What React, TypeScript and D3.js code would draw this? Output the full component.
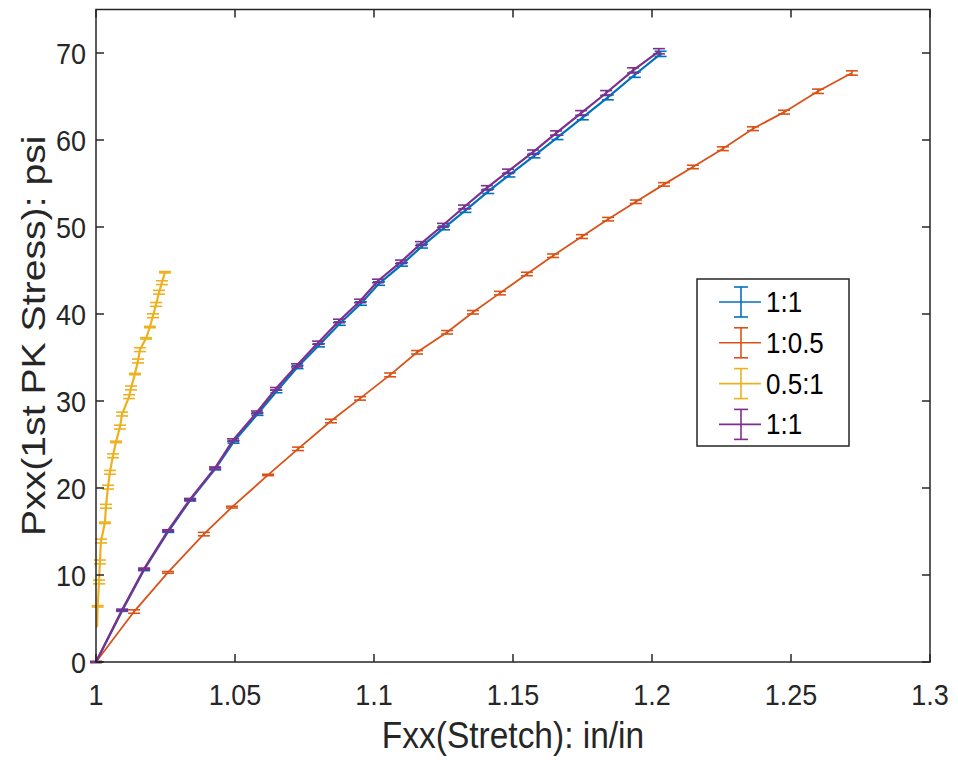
import React, { useRef, useEffect } from 'react';
import * as d3 from 'd3';

const x_ticks = [1, 1.05, 1.1, 1.15, 1.2, 1.25, 1.3];
const y_ticks = [0, 10, 20, 30, 40, 50, 60, 70];

const legend_labels = ['1:1', '1:0.5', '0.5:1', '1:1'];
const series_colors = ['#0072BD', '#D95319', '#EDB120', '#7E2F8E'];

// 1:1 (blue)
const blue_x = [1, 1.0094, 1.0173, 1.026, 1.0339, 1.0429, 1.0495, 1.0581, 1.0649, 1.0725, 1.0802, 1.0877, 1.0953, 1.1018, 1.1101, 1.1173, 1.1252, 1.1329, 1.1411, 1.1487, 1.1577, 1.166, 1.1751, 1.1841, 1.1938, 1.2031];
const blue_y = [0, 5.9, 10.6, 15.0, 18.6, 22.2, 25.3, 28.5, 31.1, 33.9, 36.4, 38.9, 41.2, 43.5, 45.7, 47.8, 49.9, 51.9, 54.1, 56.0, 58.2, 60.3, 62.6, 64.9, 67.5, 69.9];
const blue_err = [0.05, 0.08, 0.1, 0.1, 0.1, 0.12, 0.15, 0.15, 0.15, 0.18, 0.18, 0.2, 0.2, 0.2, 0.2, 0.22, 0.22, 0.22, 0.25, 0.25, 0.25, 0.25, 0.28, 0.28, 0.3, 0.3];

// 1:0.5 (red)
const red_x = [1, 1.0137, 1.0259, 1.0388, 1.0489, 1.0619, 1.0727, 1.0845, 1.095, 1.1058, 1.1155, 1.1263, 1.1356, 1.1453, 1.155, 1.1644, 1.1748, 1.1842, 1.1942, 1.2043, 1.2147, 1.2255, 1.2363, 1.2475, 1.2597, 1.2719];
const red_y = [0, 5.8, 10.3, 14.7, 17.8, 21.5, 24.5, 27.7, 30.3, 33.0, 35.6, 37.9, 40.2, 42.4, 44.6, 46.7, 48.9, 50.9, 52.9, 54.9, 56.9, 59.0, 61.3, 63.2, 65.6, 67.7];
const red_err = [0.05, 0.2, 0.1, 0.2, 0.1, 0.08, 0.2, 0.2, 0.2, 0.22, 0.2, 0.2, 0.2, 0.2, 0.2, 0.2, 0.22, 0.2, 0.2, 0.2, 0.2, 0.22, 0.22, 0.22, 0.25, 0.25];

// 0.5:1 (yellow)
const yellow_x = [1.0004, 1.0006, 1.0011, 1.0014, 1.0018, 1.0032, 1.0036, 1.0043, 1.005, 1.0061, 1.0072, 1.0086, 1.0094, 1.0119, 1.0126, 1.014, 1.0151, 1.0158, 1.018, 1.0194, 1.0205, 1.0216, 1.0227, 1.0237, 1.0248];
const yellow_y = [4.0, 6.4, 9.2, 11.5, 13.9, 16.0, 17.9, 20.1, 21.8, 23.7, 25.3, 27.0, 28.5, 30.5, 31.5, 33.1, 34.6, 35.9, 37.2, 38.5, 39.8, 41.1, 42.5, 43.6, 44.8];
const yellow_err = [null, 0.08, 0.22, 0.22, 0.22, 0.08, 0.22, 0.22, 0.22, 0.22, 0.08, 0.22, 0.22, 0.22, 0.22, 0.08, 0.22, 0.22, 0.08, 0.08, 0.22, 0.22, 0.22, 0.22, 0.08];

// 1:1 (purple)
const purple_x = [1, 1.0094, 1.0173, 1.0259, 1.0338, 1.0428, 1.0493, 1.0579, 1.0647, 1.0723, 1.0799, 1.0874, 1.095, 1.1014, 1.1097, 1.1169, 1.1248, 1.1324, 1.1406, 1.1482, 1.1572, 1.1655, 1.1745, 1.1835, 1.1932, 1.2025];
const purple_y = [0, 6.0, 10.7, 15.1, 18.7, 22.3, 25.5, 28.7, 31.4, 34.1, 36.7, 39.2, 41.5, 43.8, 46.0, 48.1, 50.2, 52.3, 54.5, 56.4, 58.6, 60.8, 63.1, 65.4, 68.0, 70.2];
const purple_err = [0.05, 0.08, 0.1, 0.1, 0.1, 0.12, 0.15, 0.15, 0.15, 0.18, 0.18, 0.2, 0.2, 0.2, 0.2, 0.22, 0.22, 0.22, 0.25, 0.25, 0.25, 0.25, 0.28, 0.28, 0.3, 0.3];

const FONT = '"Liberation Sans", Arial, Helvetica, sans-serif';
const STRETCH = 1.12;

export default function App() {
    const svg_ref = useRef(null);

    useEffect(() => {
        const width = 958;
        const height = 760;
        const margin = { left: 96, right: 28, top: 9.5, bottom: 98 };

        const svg = d3.select(svg_ref.current);
        svg.selectAll('*').remove();

        const x = d3.scaleLinear([1, 1.3], [margin.left, width - margin.right]);
        const y = d3.scaleLinear([0, 75], [height - margin.bottom, margin.top]);
        const axis_color = '#262626';

        const series = [
            { xs: blue_x, ys: blue_y, err: blue_err, color: series_colors[0], lw: 2.2 },
            { xs: red_x, ys: red_y, err: red_err, color: series_colors[1], lw: 1.8 },
            { xs: yellow_x, ys: yellow_y, err: yellow_err, color: series_colors[2], lw: 2.2 },
            { xs: purple_x, ys: purple_y, err: purple_err, color: series_colors[3], lw: 2.2 },
        ];

        const line = d3
            .line()
            .x((d) => x(d.x))
            .y((d) => y(d.y));

        const cap = 6;
        series.forEach((s) => {
            const pts = s.xs.map((v, i) => ({ x: v, y: s.ys[i], e: s.err[i] }));
            const g = svg.append('g');
            g.append('path')
                .datum(pts)
                .attr('fill', 'none')
                .attr('stroke', s.color)
                .attr('stroke-width', s.lw)
                .attr('d', line);

            const bars = g
                .selectAll('g.eb')
                .data(pts.filter((d) => d.e != null))
                .join('g')
                .attr('stroke', s.color)
                .attr('stroke-width', 1.6);
            bars.append('line')
                .attr('x1', (d) => x(d.x))
                .attr('x2', (d) => x(d.x))
                .attr('y1', (d) => y(d.y - d.e))
                .attr('y2', (d) => y(d.y + d.e));
            bars.append('line')
                .attr('x1', (d) => x(d.x) - cap)
                .attr('x2', (d) => x(d.x) + cap)
                .attr('y1', (d) => y(d.y - d.e))
                .attr('y2', (d) => y(d.y - d.e));
            bars.append('line')
                .attr('x1', (d) => x(d.x) - cap)
                .attr('x2', (d) => x(d.x) + cap)
                .attr('y1', (d) => y(d.y + d.e))
                .attr('y2', (d) => y(d.y + d.e));
        });

        // axes box with inward ticks on every side
        const tick = 8;
        const x0 = x.range()[0];
        const x1 = x.range()[1];
        const y0 = y.range()[0];
        const y1 = y.range()[1];
        const axes = svg.append('g').attr('stroke', axis_color).attr('stroke-width', 1.5);
        axes.append('rect')
            .attr('x', x0)
            .attr('y', y1)
            .attr('width', x1 - x0)
            .attr('height', y0 - y1)
            .attr('fill', 'none');
        x_ticks.forEach((t) => {
            axes.append('line').attr('x1', x(t)).attr('x2', x(t)).attr('y1', y0).attr('y2', y0 - tick);
            axes.append('line').attr('x1', x(t)).attr('x2', x(t)).attr('y1', y1).attr('y2', y1 + tick);
        });
        y_ticks.forEach((t) => {
            axes.append('line').attr('x1', x0).attr('x2', x0 + tick).attr('y1', y(t)).attr('y2', y(t));
            axes.append('line').attr('x1', x1).attr('x2', x1 - tick).attr('y1', y(t)).attr('y2', y(t));
        });

        const fmt = (v) => String(+v.toFixed(2));
        svg.append('g')
            .selectAll('text')
            .data(x_ticks)
            .join('text')
            .attr('transform', (d) => `translate(${x(d)},${y0 + 43}) scale(1,${STRETCH})`)
            .attr('text-anchor', 'middle')
            .attr('font-family', FONT)
            .attr('font-size', 27)
            .attr('fill', axis_color)
            .text(fmt);
        svg.append('g')
            .selectAll('text')
            .data(y_ticks)
            .join('text')
            .attr('transform', (d) => `translate(${x0 - 10},${y(d) + 11}) scale(1,${STRETCH})`)
            .attr('text-anchor', 'end')
            .attr('font-family', FONT)
            .attr('font-size', 27)
            .attr('fill', axis_color)
            .text(fmt);

        svg.append('text')
            .attr('transform', `translate(${(x0 + x1) / 2},${y0 + 86}) scale(1,${STRETCH})`)
            .attr('text-anchor', 'middle')
            .attr('font-family', FONT)
            .attr('font-size', 33.5)
            .attr('fill', axis_color)
            .text('Fxx(Stretch): in/in');
        svg.append('text')
            .attr('transform', `translate(45,${(y0 + y1) / 2}) scale(1,1.17) rotate(-90)`)
            .attr('text-anchor', 'middle')
            .attr('font-family', FONT)
            .attr('font-size', 33.5)
            .attr('fill', axis_color)
            .text('Pxx(1st PK Stress): psi');

        // legend
        const lg = svg.append('g').attr('transform', 'translate(697,279)');
        lg.append('rect')
            .attr('width', 152)
            .attr('height', 167)
            .attr('fill', 'white')
            .attr('stroke', axis_color)
            .attr('stroke-width', 1.5);
        legend_labels.forEach((label, i) => {
            const cy = 23 + i * 40.8;
            const c = series_colors[i];
            const item = lg.append('g').attr('stroke', c).attr('stroke-width', 1.6);
            item.append('line').attr('x1', 22).attr('x2', 64).attr('y1', cy).attr('y2', cy);
            item.append('line').attr('x1', 44).attr('x2', 44).attr('y1', cy - 15).attr('y2', cy + 15);
            item.append('line').attr('x1', 37).attr('x2', 51).attr('y1', cy - 15).attr('y2', cy - 15);
            item.append('line').attr('x1', 37).attr('x2', 51).attr('y1', cy + 15).attr('y2', cy + 15);
            lg.append('text')
                .attr('transform', `translate(69,${cy + 10}) scale(1,${STRETCH})`)
                .attr('font-family', FONT)
                .attr('font-size', 26)
                .attr('fill', '#000')
                .text(label);
        });
    }, []);

    return (
        <svg
            ref={svg_ref}
            width={958}
            height={760}
            style={{ position: 'absolute', left: 0, top: 0, background: 'white' }}
        ></svg>
    );
}
